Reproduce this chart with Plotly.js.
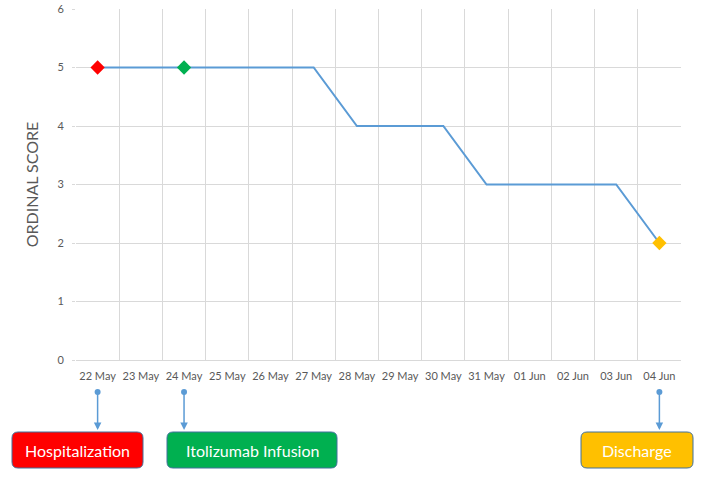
<!DOCTYPE html>
<html>
<head>
<meta charset="utf-8">
<script src="https://cdn.plot.ly/plotly-3.0.1.min.js"></script>
<style>
  html, body { margin: 0; padding: 0; background: #fff; }
  #chart { width: 714px; height: 478px; }
</style>
</head>
<body>
<div id="chart"></div>
<script>
var days = ["22 May", "23 May", "24 May", "25 May", "26 May", "27 May", "28 May",
            "29 May", "30 May", "31 May", "01 Jun", "02 Jun", "03 Jun", "04 Jun"];
var scores = [5, 5, 5, 5, 5, 5, 4, 4, 4, 3, 3, 3, 3, 2];

// events marked on the line and in the boxes below
var eventIdx = [0, 2, 13];
var eventLabels = ["Hospitalization", "Itolizumab Infusion", "Discharge"];
var eventColors = ["#FF0000", "#00B050", "#FFC000"];

// plot box in pixels (714x478 page)
var L = 76, R = 33, T = 9, B = 118;
var W = 714 - L - R, H = 478 - T - B;
function px(x) { return (x - L) / W; }
function py(y) { return (478 - B - y) / H; }

// box positions in pixels: left, right, top, bottom
var boxes = [[12, 143, 432, 468], [167, 337, 432, 468], [581, 693, 432, 468]];

function roundRect(w, h, r) {
  return "M " + r + ",0 L " + (w - r) + ",0 Q " + w + ",0 " + w + "," + (-r) +
    " L " + w + "," + (-(h - r)) + " Q " + w + "," + (-h) + " " + (w - r) + "," + (-h) +
    " L " + r + "," + (-h) + " Q 0," + (-h) + " 0," + (-(h - r)) +
    " L 0," + (-r) + " Q 0,0 " + r + ",0 Z";
}

var lineTrace = {
  x: days,
  y: scores,
  type: "scatter",
  mode: "lines",
  line: { color: "#5B9BD5", width: 2 },
  hoverinfo: "x+y"
};

var markTrace = {
  x: eventIdx.map(i => days[i]),
  y: eventIdx.map(i => scores[i]),
  type: "scatter",
  mode: "markers",
  marker: { symbol: "diamond", size: 11, color: eventColors },
  hoverinfo: "x+y"
};

var shapes = [];
var annotations = [];
eventIdx.forEach(function (idx, k) {
  var b = boxes[k];
  shapes.push({
    type: "path",
    xref: "paper", yref: "paper",
    xsizemode: "pixel", ysizemode: "pixel",
    xanchor: px(b[0]), yanchor: py(b[2]),
    path: roundRect(b[1] - b[0], b[3] - b[2], 6),
    fillcolor: eventColors[k],
    line: { color: "#41719C", width: 1 },
    layer: "above"
  });
  annotations.push({
    xref: "paper", yref: "paper",
    x: px((b[0] + b[1]) / 2), y: py((b[2] + b[3]) / 2),
    xanchor: "center", yanchor: "middle",
    text: eventLabels[k],
    showarrow: false,
    font: { family: "Lato, 'Open Sans', sans-serif", size: 16, color: "#FFFFFF" }
  });
  // arrow from the date label down to the box
  annotations.push({
    xref: "x", yref: "paper",
    x: days[idx], y: py(430),
    ax: 0, ay: -40,
    text: " ",
    font: { size: 1 },
    showarrow: true,
    arrowside: "end+start",
    arrowhead: 2,
    startarrowhead: 6,
    arrowsize: 1,
    startarrowsize: 1,
    arrowwidth: 1.5,
    arrowcolor: "#5B9BD5",
    standoff: 0,
    startstandoff: 0
  });
});

var layout = {
  width: 714,
  height: 478,
  margin: { l: L, r: R, t: T, b: B },
  paper_bgcolor: "#FFFFFF",
  plot_bgcolor: "#FFFFFF",
  showlegend: false,
  font: { family: "Lato, 'Open Sans', sans-serif", color: "#595959", size: 11 },
  xaxis: {
    type: "category",
    range: [-0.5, 13.5],
    tickson: "boundaries",
    tickangle: 0,
    showgrid: true,
    gridcolor: "#D9D9D9",
    gridwidth: 1,
    showline: true,
    linecolor: "#D9D9D9",
    ticks: "",
    ticklabelstandoff: 6,
    tickfont: { size: 11, color: "#595959" },
    fixedrange: true
  },
  yaxis: {
    range: [0, 6],
    dtick: 1,
    showgrid: true,
    gridcolor: "#D9D9D9",
    gridwidth: 1,
    zeroline: false,
    showline: false,
    ticks: "outside",
    ticklen: 3,
    tickcolor: "#D9D9D9",
    ticklabelstandoff: 6,
    tickfont: { size: 11, color: "#595959" },
    title: { text: "ORDINAL SCORE", font: { size: 16, color: "#595959" }, standoff: 14 },
    fixedrange: true
  },
  shapes: shapes,
  annotations: annotations
};

Plotly.newPlot("chart", [lineTrace, markTrace], layout, { displayModeBar: false, staticPlot: true });
</script>
</body>
</html>
